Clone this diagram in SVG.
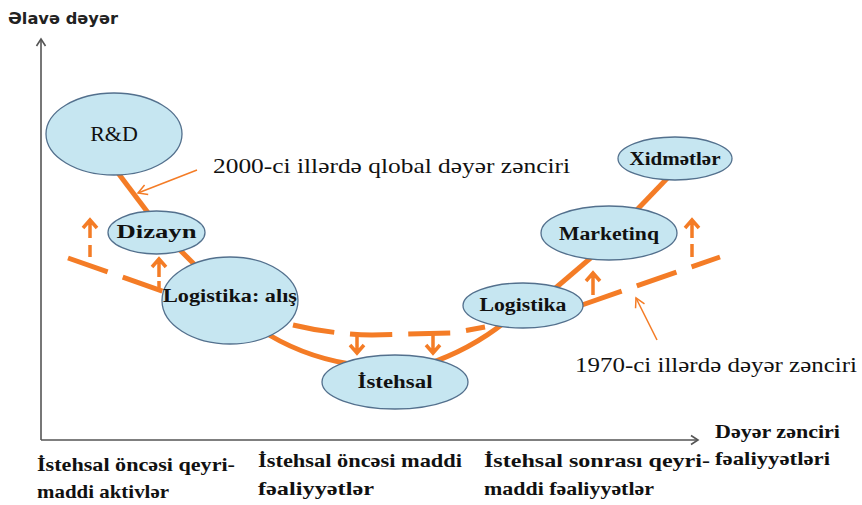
<svg xmlns="http://www.w3.org/2000/svg" width="862" height="505" viewBox="0 0 862 505">
  <defs>
    <style>
      .axis { stroke: #555; stroke-width: 1.6; fill: none; }
      .chain { stroke: #f47c26; stroke-width: 5; fill: none; stroke-linecap: butt; }
      .old { stroke: #f47c26; stroke-width: 5; fill: none; stroke-dasharray: 42 16; }
      .shift { stroke: #f47c26; stroke-width: 3.5; fill: none; }
      .pointer { stroke: #f47c26; stroke-width: 1.5; fill: none; }
      .node { fill: #c6e6f1; stroke: #53708d; stroke-width: 1.3; }
      .lbl { font-family: "Liberation Serif", "DejaVu Serif", "Times New Roman", serif; font-weight: 700; font-size: 18px; fill: #111; text-anchor: middle; }
      .note { font-family: "Liberation Serif", "DejaVu Serif", "Times New Roman", serif; font-size: 22px; fill: #111; }
      .cat { font-family: "Liberation Serif", "DejaVu Serif", "Times New Roman", serif; font-weight: 700; font-size: 19px; fill: #111; }
      .ytitle { font-family: "DejaVu Sans", "Liberation Sans", sans-serif; font-weight: bold; font-size: 15px; fill: #222; }
    </style>
    <marker id="axisHead" markerWidth="12" markerHeight="12" refX="9" refY="6" orient="auto" markerUnits="userSpaceOnUse">
      <path d="M2,1.5 L9,6 L2,10.5" fill="none" stroke="#555" stroke-width="1.6"/>
    </marker>
    <marker id="thinHead" markerWidth="14" markerHeight="14" refX="11" refY="7" orient="auto" markerUnits="userSpaceOnUse">
      <path d="M2,2 L11,7 L2,12" fill="none" stroke="#f47c26" stroke-width="1.5"/>
    </marker>
  </defs>

  <!-- axes -->
  <g id="axes">
    <line class="axis" x1="41" y1="440" x2="41" y2="39" marker-end="url(#axisHead)"/>
    <line class="axis" x1="41" y1="440" x2="698" y2="440" marker-end="url(#axisHead)"/>
    <text class="ytitle" x="8" y="24" textLength="110" lengthAdjust="spacingAndGlyphs">Əlavə dəyər</text>
  </g>

  <!-- connectors: current chain (solid), older chain (dashed), shift arrows, pointers -->
  <g id="connectors">
    <path class="chain" d="M112,165 L155,222"/>
    <path class="chain" d="M170,240 L205,275"/>
    <path class="chain" d="M258,328 Q300,356 350,364"/>
    <path class="chain" d="M425,365 Q470,350 505,322"/>
    <path class="chain" d="M545,297 L600,250"/>
    <path class="chain" d="M630,217 L680,165"/>

    <path class="old" d="M68,258 L165,292"/>
    <path class="old" d="M293,325 Q330,334 372,335 L452,333 L485,327"/>
    <path class="old" d="M582,305 L720,257"/>

    <!-- upward shifts on the left -->
    <path class="shift" d="M90,257 L90,245 M90,238 L90,222 M83,228 L90,220 L97,228"/>
    <path class="shift" d="M159,291 L159,281 M159,277 L159,261 M152,267 L159,259 L166,267"/>
    <!-- downward shifts in the middle -->
    <path class="shift" d="M357,335 L357,352 M350,345 L357,353 L364,345"/>
    <path class="shift" d="M433,334 L433,352 M426,345 L433,353 L440,345"/>
    <!-- upward shifts on the right -->
    <path class="shift" d="M593,295 L593,275 M586,281 L593,273 L600,281"/>
    <path class="shift" d="M692,257 L692,244 M692,238 L692,222 M685,228 L692,220 L699,228"/>

    <path class="pointer" d="M197,170 L138,193" marker-end="url(#thinHead)"/>
    <path class="pointer" d="M657,340 L636,298" marker-end="url(#thinHead)"/>
  </g>

  <g id="rd">
    <ellipse class="node" cx="114" cy="134" rx="68" ry="41"/>
    <text class="lbl" x="114" y="141" style="font-weight:400;font-size:22px">R&amp;D</text>
  </g>
  <g id="dizayn">
    <ellipse class="node" cx="156.5" cy="232.5" rx="48.5" ry="21.5"/>
    <text class="lbl" x="156.5" y="238" textLength="80" lengthAdjust="spacingAndGlyphs">Dizayn</text>
  </g>
  <g id="logistika-alis">
    <ellipse class="node" cx="230" cy="300.5" rx="68" ry="43.5"/>
    <text class="lbl" x="230" y="302" textLength="134" lengthAdjust="spacingAndGlyphs">Logistika: alış</text>
  </g>
  <g id="istehsal">
    <ellipse class="node" cx="395" cy="382" rx="73" ry="27"/>
    <text class="lbl" x="395" y="388" textLength="75" lengthAdjust="spacingAndGlyphs">İstehsal</text>
  </g>
  <g id="logistika">
    <ellipse class="node" cx="523" cy="305.5" rx="60" ry="22.5"/>
    <text class="lbl" x="523" y="311" textLength="87" lengthAdjust="spacingAndGlyphs">Logistika</text>
  </g>
  <g id="marketinq">
    <ellipse class="node" cx="609" cy="233" rx="68" ry="27"/>
    <text class="lbl" x="609" y="240" textLength="100" lengthAdjust="spacingAndGlyphs">Marketinq</text>
  </g>
  <g id="xidmetler">
    <ellipse class="node" cx="675" cy="158.5" rx="57" ry="21.5"/>
    <text class="lbl" x="675" y="165" textLength="91" lengthAdjust="spacingAndGlyphs">Xidmətlər</text>
  </g>

  <g id="notes">
    <text class="note" x="213" y="173" textLength="357" lengthAdjust="spacingAndGlyphs">2000-ci illərdə qlobal dəyər zənciri</text>
    <text class="note" x="575" y="372" textLength="282" lengthAdjust="spacingAndGlyphs">1970-ci illərdə dəyər zənciri</text>
  </g>

  <g id="categories">
    <text class="cat" x="37" y="471" textLength="198" lengthAdjust="spacingAndGlyphs">İstehsal öncəsi qeyri-</text>
    <text class="cat" x="37" y="498" textLength="132" lengthAdjust="spacingAndGlyphs">maddi aktivlər</text>
    <text class="cat" x="258" y="467" textLength="204" lengthAdjust="spacingAndGlyphs">İstehsal öncəsi maddi</text>
    <text class="cat" x="258" y="495" textLength="116" lengthAdjust="spacingAndGlyphs">fəaliyyətlər</text>
    <text class="cat" x="484" y="467" textLength="226" lengthAdjust="spacingAndGlyphs">İstehsal sonrası qeyri-</text>
    <text class="cat" x="484" y="495" textLength="170" lengthAdjust="spacingAndGlyphs">maddi fəaliyyətlər</text>
    <text class="cat" x="715" y="438" textLength="125" lengthAdjust="spacingAndGlyphs">Dəyər zənciri</text>
    <text class="cat" x="715" y="465" textLength="115" lengthAdjust="spacingAndGlyphs">fəaliyyətləri</text>
  </g>
</svg>
